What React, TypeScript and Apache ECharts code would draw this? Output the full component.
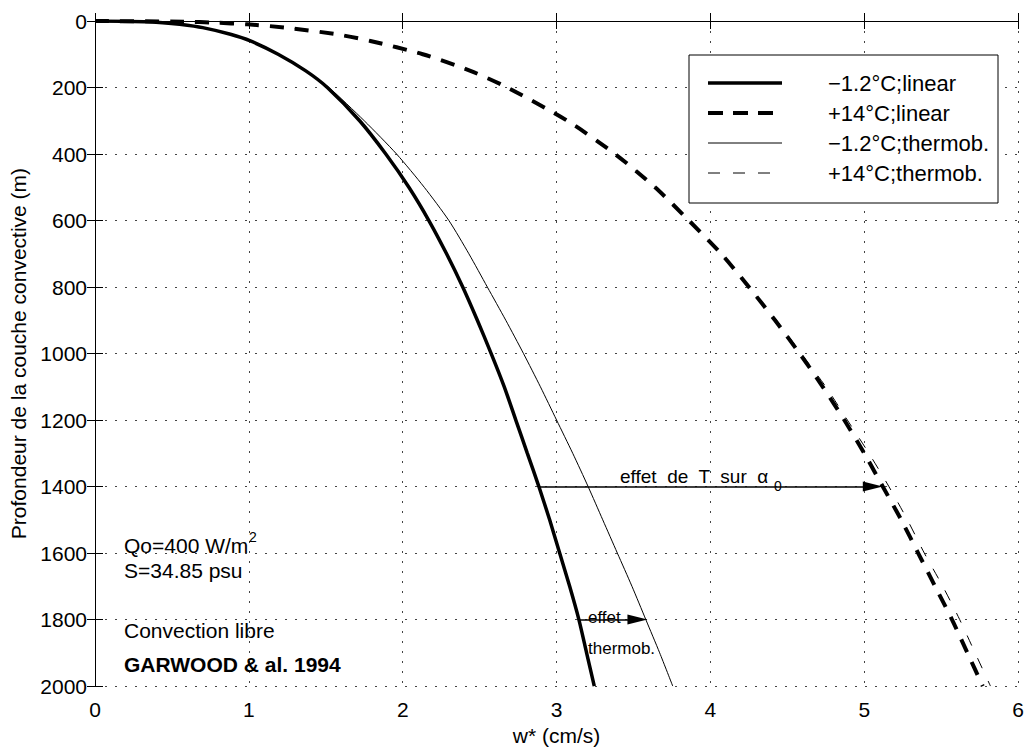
import React, { useEffect, useRef } from "react";
import * as echarts from "echarts";

// Depth (m) at which each w* value was read
const depths = [0, 2, 5, 10, 20, 40, 60, 100, 150, 200, 300, 400, 500, 600, 700, 800, 900, 1000, 1100, 1200, 1300, 1400, 1500, 1600, 1700, 1800, 1900, 2000];
// w* (cm/s)
const coldLinear = [0, 0.32, 0.44, 0.55, 0.70, 0.88, 1.01, 1.19, 1.37, 1.51, 1.72, 1.89, 2.04, 2.17, 2.285, 2.39, 2.485, 2.575, 2.66, 2.735, 2.81, 2.885, 2.955, 3.02, 3.085, 3.145, 3.195, 3.245];
const warmLinear = [0, 0.58, 0.78, 0.99, 1.24, 1.57, 1.79, 2.13, 2.44, 2.68, 3.07, 3.38, 3.64, 3.86, 4.07, 4.25, 4.42, 4.58, 4.73, 4.87, 5.00, 5.12, 5.24, 5.35, 5.46, 5.57, 5.67, 5.77];
const coldThermob = [0, 0.32, 0.44, 0.55, 0.70, 0.88, 1.01, 1.19, 1.37, 1.52, 1.75, 1.96, 2.14, 2.30, 2.43, 2.55, 2.67, 2.785, 2.895, 3.00, 3.105, 3.205, 3.30, 3.395, 3.49, 3.58, 3.67, 3.755];
const warmThermob = [0, 0.58, 0.78, 0.99, 1.24, 1.57, 1.79, 2.13, 2.44, 2.68, 3.07, 3.38, 3.64, 3.86, 4.07, 4.25, 4.43, 4.59, 4.75, 4.89, 5.03, 5.16, 5.28, 5.39, 5.51, 5.62, 5.72, 5.82];

const seriesNames = ["−1.2°C;linear", "+14°C;linear", "−1.2°C;thermob.", "+14°C;thermob."];

const xMin = 0, xMax = 6, xStep = 1;
const yMin = 0, yMax = 2000, yStep = 200;

// annotation arrows: [from, tip] in data units
const arrowAlpha = [[2.89, 1400], [5.12, 1400]];
const arrowThermob = [[3.14, 1800], [3.59, 1800]];

const notes = ["Qo=400 W/m", "S=34.85 psu", "Convection libre", "GARWOOD & al. 1994"];
const noteSup = "2";
const alphaNote = "effet  de  T  sur  α";
const alphaSub = "0";
const thermobNote = ["effet", "thermob."];

const FONT = "'Liberation Sans', Arial, Helvetica, sans-serif";
const W = 1027, H = 751;
const GRID = { left: 93, top: 21, right: 5, bottom: 54 };

// line styles shared by series and the hand-drawn legend
const styles = [
  { width: 3.5, dash: null as number[] | null, legendDash: null as number[] | null },
  { width: 4, dash: [14, 11], legendDash: [15, 10] },
  { width: 1, dash: null, legendDash: null },
  { width: 1, dash: [11, 14], legendDash: [12, 13] },
];

function pairs(vals: number[]) {
  return vals.map((v, i) => [v, depths[i]]);
}

function txt(text: string, x: number, y: number, fontSize: number, bold = false) {
  return {
    type: "text", x, y, z: 100,
    style: { text, fontSize, fontWeight: bold ? "bold" : "normal", fontFamily: FONT, fill: "#000", verticalAlign: "middle" },
  };
}

export default function App() {
  const ref = useRef<HTMLDivElement>(null);
  useEffect(() => {
    if (!ref.current) return;
    const chart = echarts.init(ref.current, undefined, { renderer: "svg" });
    const pxPerX = (W - GRID.left - GRID.right) / (xMax - xMin);
    const headLen = 20;
    const back = headLen / 2 / pxPerX;
    const arrowData = [arrowAlpha, arrowThermob].map((a) => [
      { coord: a[0], symbol: "none" },
      { coord: [a[1][0] - back, a[1][1]], symbol: "triangle", symbolSize: [10, headLen] },
    ]);
    const axisCommon = {
      type: "value",
      axisLine: { show: true, lineStyle: { color: "#000", width: 1 } },
      axisTick: { show: true, inside: true, length: 8, lineStyle: { color: "#000", width: 1 } },
    };
    const split = { show: true, lineStyle: { type: [2, 8], color: "#444", width: 1 } };
    const labelStyle = { color: "#000", fontSize: 21, fontFamily: FONT };

    // legend (drawn as graphic, MATLAB style)
    const lgX = 689, lgY = 55, lgW = 309, lgH = 148;
    const rowY = [83, 113, 143, 173];
    const legendEls: any[] = [
      { type: "rect", shape: { x: lgX, y: lgY, width: lgW, height: lgH }, style: { fill: "#fff", stroke: "#000", lineWidth: 1 }, z: 90 },
    ];
    seriesNames.forEach((name, i) => {
      legendEls.push({
        type: "line", z: 91,
        shape: { x1: 708, y1: rowY[i], x2: 782, y2: rowY[i] },
        style: { stroke: "#000", lineWidth: styles[i].width, lineDash: styles[i].legendDash || undefined },
      });
      legendEls.push({
        type: "text", x: 828, y: rowY[i], z: 91,
        style: { text: name, fontSize: 22, fontFamily: FONT, fill: "#000", verticalAlign: "middle" },
      });
    });

    const option: any = {
      animation: false,
      backgroundColor: "#fff",
      textStyle: { fontFamily: FONT },
      grid: { ...GRID, containLabel: false },
      xAxis: [
        {
          ...axisCommon,
          min: xMin, max: xMax, interval: xStep, position: "bottom",
          axisLabel: { ...labelStyle, margin: 13, formatter: (v: number) => String(v) },
          splitLine: split,
          name: "w* (cm/s)", nameLocation: "middle", nameGap: 37,
          nameTextStyle: { ...labelStyle },
        },
        {
          ...axisCommon,
          min: xMin, max: xMax, interval: xStep, position: "top",
          axisLabel: { show: false }, splitLine: { show: false },
        },
      ],
      yAxis: [
        {
          ...axisCommon,
          min: yMin, max: yMax, interval: yStep, inverse: true, position: "left",
          axisLabel: { ...labelStyle, margin: 8, formatter: (v: number) => String(v) },
          splitLine: split,
          name: "Profondeur de la couche convective (m)", nameLocation: "middle", nameGap: 66, nameRotate: 90,
          nameTextStyle: { ...labelStyle },
        },
        {
          ...axisCommon,
          min: yMin, max: yMax, interval: yStep, inverse: true, position: "right",
          axisLabel: { show: false }, splitLine: { show: false },
        },
      ],
      series: [coldLinear, warmLinear, coldThermob, warmThermob].map((vals, i) => {
        const s: any = {
          name: seriesNames[i], type: "line", data: pairs(vals), symbol: "none", silent: true,
          smooth: 0.25,
          lineStyle: { color: "#000", width: styles[i].width, type: styles[i].dash || "solid" },
          itemStyle: { color: "#000" }, z: i < 2 ? 3 : 2,
        };
        if (i === 0) {
          s.markLine = {
            silent: true, symbol: ["none", "triangle"], symbolSize: [10, headLen],
            lineStyle: { color: "#000", width: 1.5, type: "solid" },
            label: { show: false }, emphasis: { disabled: true },
            data: arrowData,
          };
        }
        return s;
      }),
      graphic: [
        ...legendEls,
        txt(notes[0], 124, 545, 21),
        txt(noteSup, 249, 537, 14),
        txt(notes[1], 124, 570, 21),
        txt(notes[2], 124, 630, 21),
        txt(notes[3], 124, 664, 21, true),
        txt(alphaNote, 620, 476, 19),
        txt(alphaSub, 774, 486, 14),
        txt(thermobNote[0], 588, 617, 17),
        txt(thermobNote[1], 588, 648, 17),
      ],
    };
    chart.setOption(option);
    return () => chart.dispose();
  }, []);
  return <div ref={ref} style={{ position: "fixed", left: 0, top: 0, width: W, height: H, background: "#fff" }} />;
}
